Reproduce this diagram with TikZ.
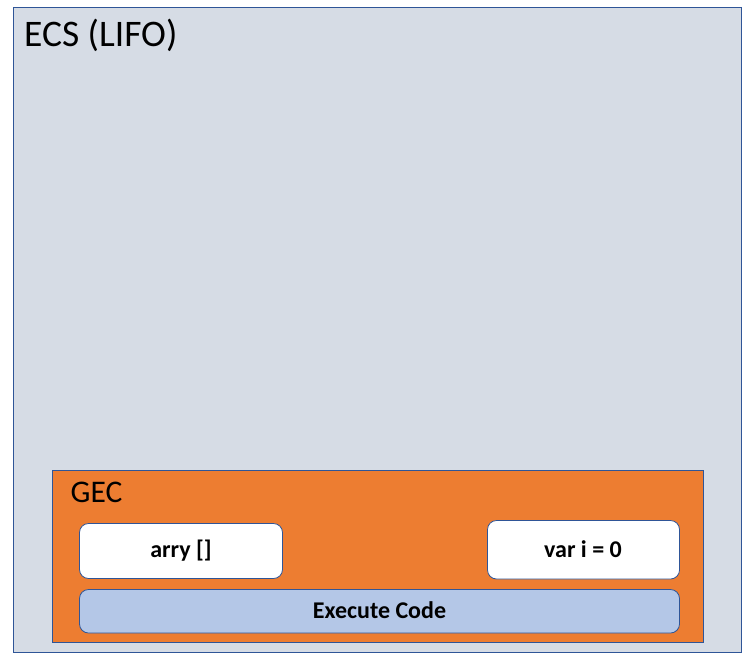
\documentclass[tikz,border=0pt]{standalone}
\usepackage{fontspec}
\setmainfont{Carlito}
\definecolor{ecsfill}{HTML}{D6DCE5}
\definecolor{edge}{HTML}{2F5597}
\definecolor{gecfill}{HTML}{ED7D31}
\definecolor{execfill}{HTML}{B4C7E7}
\begin{document}
\begin{tikzpicture}[x=1pt,y=-1pt,
  frame/.style={draw=edge, line width=0.8pt},
  valbox/.style={draw=edge, line width=0.8pt, rounded corners=9pt},
  boldlabel/.style={font=\fontsize{24}{28}\selectfont\bfseries}]
\useasboundingbox (0,0) rectangle (743,653);
\fill[white] (0,0) rectangle (743,653);
\draw[frame, fill=ecsfill] (13,7) rectangle (741,652);
\node[anchor=base west, inner sep=0pt, font=\fontsize{37.5}{43}\selectfont] (ecs) at (24,46.5) {ECS (LIFO)};
\draw[frame, fill=gecfill] (52.5,470.5) rectangle (703.5,642);
\node[anchor=base west, inner sep=0pt, font=\fontsize{31.5}{36}\selectfont] (gec) at (70.5,502.5) {GEC};
\draw[valbox, fill=white] (79.5,523.5) rectangle (282.5,578.5);
\node[boldlabel, anchor=base] (arry) at (181,557.5) {arry []};
\draw[valbox, fill=white] (487.5,520.5) rectangle (679.5,579);
\node[boldlabel, anchor=base] (vari) at (583,557.5) {var i = 0};
\draw[valbox, fill=execfill] (79.5,589.5) rectangle (679.5,633);
\node[boldlabel, anchor=base] (exec) at (379.5,618) {Execute Code};
\end{tikzpicture}
\end{document}
